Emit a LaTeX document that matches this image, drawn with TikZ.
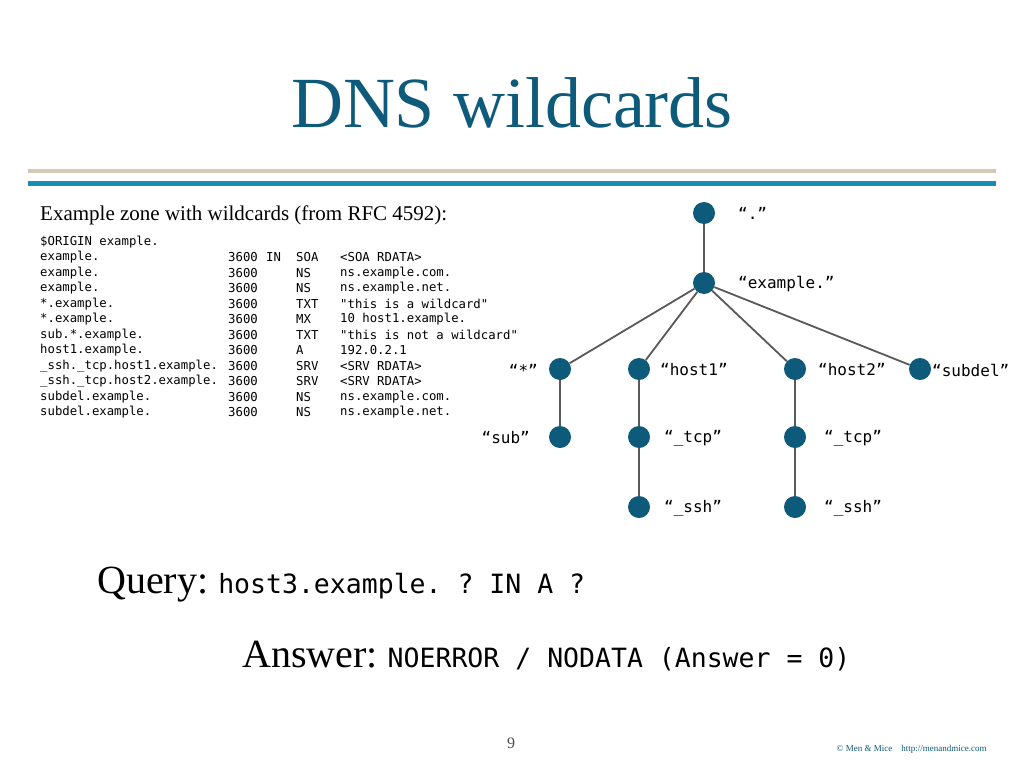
\documentclass[tikz,border=0pt]{standalone}
\usepackage{fontspec}
\setmainfont{Liberation Serif}
\setmonofont{DejaVu Sans Mono}
\definecolor{dnsblue}{HTML}{0E5A7A}
\definecolor{rulebeige}{HTML}{D3CBB8}
\definecolor{ruleblue}{HTML}{1A8CB8}
\begin{document}
\begin{tikzpicture}[x=1pt,y=-1pt,
  dot/.style={circle,fill=dnsblue,minimum size=22pt,inner sep=0pt},
  lbl/.style={font=\fontsize{16}{18}\selectfont\ttfamily,inner sep=0pt},
  edge/.style={draw=black!65,line width=1.8pt},
  code/.style={font=\fontsize{12.3}{15.5}\selectfont\ttfamily,anchor=west,inner sep=0pt}]
\useasboundingbox (0,0) rectangle (1024,768);
\fill[white] (0,0) rectangle (1024,768);
\node[text=dnsblue,font=\fontsize{72}{76}\selectfont] (title) at (512,103) {DNS wildcards};
\draw[rulebeige,line width=4pt] (28,171) -- (996,171);
\draw[ruleblue,line width=5pt] (28,183) -- (996,183);
\node[anchor=west,inner sep=0pt,font=\fontsize{21}{24}\selectfont] (sub) at (40,215) {Example zone with wildcards (from RFC 4592):};
\foreach \i/\n/\t/\c/\ty/\r in {
 1/\$ORIGIN example.////,
 2/example./3600/IN/SOA/<SOA RDATA>,
 3/example./3600//NS/ns.example.com.,
 4/example./3600//NS/ns.example.net.,
 5/*.example./3600//TXT/"this is a wildcard",
 6/*.example./3600//MX/10 host1.example.,
 7/sub.*.example./3600//TXT/"this is not a wildcard",
 8/host1.example./3600//A/192.0.2.1,
 9/\_ssh.\_tcp.host1.example./3600//SRV/<SRV RDATA>,
 10/\_ssh.\_tcp.host2.example./3600//SRV/<SRV RDATA>,
 11/subdel.example./3600//NS/ns.example.com.,
 12/subdel.example./3600//NS/ns.example.net.}{
 \pgfmathsetmacro\yy{242+15.5*(\i-1)}
 \node[code] (n\i) at (40,\yy) {\n};
 \node[code] (a\i) at (228,\yy) {\t};
 \node[code] (b\i) at (266,\yy) {\c};
 \node[code] (c\i) at (296,\yy) {\ty};
 \node[code] (d\i) at (340,\yy) {\r};
}
\node[dot] (root) at (704,213) {};
\node[dot] (ex) at (704,283) {};
\node[dot] (star) at (560,369) {};
\node[dot] (h1) at (639,369) {};
\node[dot] (h2) at (795,369) {};
\node[dot] (sd) at (920,369) {};
\node[dot] (sb) at (560,437) {};
\node[dot] (t1) at (639,437) {};
\node[dot] (t2) at (795,437) {};
\node[dot] (s1) at (639,507) {};
\node[dot] (s2) at (795,507) {};
\draw[edge] (root) -- (ex);
\foreach \c in {star,h1,h2,sd} \draw[edge] (ex) -- (\c);
\draw[edge] (star) -- (sb);
\draw[edge] (h1) -- (t1) -- (s1);
\draw[edge] (h2) -- (t2) -- (s2);
\node[lbl,anchor=west] (lroot) at (738,213) {“.”};
\node[lbl,anchor=west] (lex) at (738,284) {“example.”};
\node[lbl,anchor=east] (lstar) at (538,370) {“*”};
\node[lbl,anchor=west] (lh1) at (660,370) {“host1”};
\node[lbl,anchor=west] (lh2) at (818,370) {“host2”};
\node[lbl,anchor=west] (lsd) at (932,370) {“subdel”};
\node[lbl,anchor=east] (lsb) at (530,438) {“sub”};
\node[lbl,anchor=west] (lt1) at (664,438) {“\_tcp”};
\node[lbl,anchor=west] (lt2) at (824,438) {“\_tcp”};
\node[lbl,anchor=west] (ls1) at (664,508) {“\_ssh”};
\node[lbl,anchor=west] (ls2) at (824,508) {“\_ssh”};
\node[anchor=base west,inner sep=0pt] (q) at (97,593) {\fontsize{40}{42}\selectfont Query:\hspace{10pt}\fontsize{26.5}{28}\selectfont\ttfamily host3.example. ? IN A ?};
\node[anchor=base west,inner sep=0pt] (ans) at (242,667) {\fontsize{40}{42}\selectfont Answer:\hspace{10pt}\fontsize{26.5}{28}\selectfont\ttfamily NOERROR / NODATA (Answer = 0)};
\node[font=\fontsize{16}{18}\selectfont,text=black!70] (pg) at (511,743) {9};
\node[anchor=east,font=\fontsize{9}{10}\selectfont,text=dnsblue] (ft) at (990,749) {© Men \& Mice\quad http://menandmice.com};
\end{tikzpicture}
\end{document}
